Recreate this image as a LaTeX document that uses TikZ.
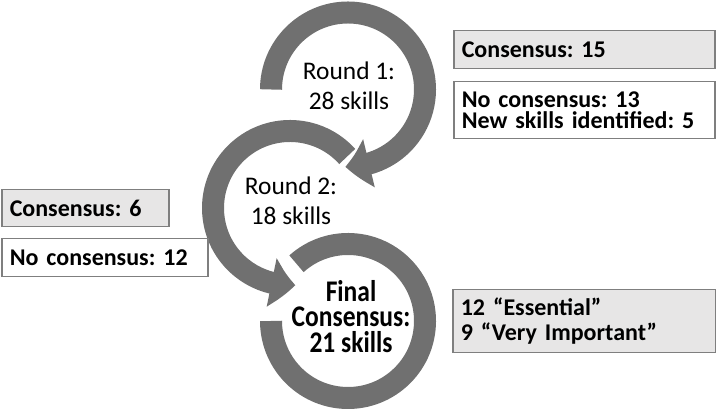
\documentclass[tikz,border=0pt]{standalone}
\usepackage{fontspec}
\setmainfont{Carlito}
\frenchspacing
\usepackage{tikz}
\usetikzlibrary{arrows.meta,bending,positioning,calc}
\definecolor{ringgray}{RGB}{112,112,112}
\definecolor{boxfill}{RGB}{231,230,230}
\definecolor{boxline}{RGB}{127,127,127}

\begin{document}
\begin{tikzpicture}[x=0.5pt, y=0.5pt,
  ring/.style={draw=ringgray, line width=11pt},
  ringtip/.style={ring, -{Triangle[bend, width=24pt, length=12pt]}},
  infobox/.style={rectangle, draw=boxline, line width=0.75pt, anchor=north west, inner xsep=4pt, inner ysep=0pt, align=left, font=\fontsize{12}{10.2}\selectfont\bfseries},
  graybox/.style={infobox, fill=boxfill}]
\useasboundingbox (0,0) rectangle (716,410);
% Ring centres
\coordinate (c1) at (348,320.5);
\coordinate (c2) at (290,202);
\coordinate (c3) at (348,89);
% Rings
\draw[ringtip] ([shift={(42:77)}]c2) arc[start angle=42, end angle=274, radius=77];
\draw[ringtip] ([shift={(180:77)}]c1) arc[start angle=180, end angle=-92, radius=77];
\draw[ring] ([shift={(132:77)}]c3) arc[start angle=132, end angle=-180, radius=77];
% Round labels
\node[align=center, font=\fontsize{12.7}{15}\selectfont] (r1) at (349,324.5) {Round 1:\\28 skills};
\node[align=center, font=\fontsize{12.7}{15}\selectfont] (r2) at (291,209.5) {Round 2:\\18 skills};
\node[align=center, xscale=0.85, font=\fontsize{15}{12.6}\selectfont\bfseries] (fin) at (351,93.5) {Final\\Consensus:\\21 skills};
% Round 1 results
\node[graybox, text width=122.5pt, minimum height=19pt] (cons1) at (453,380) {Consensus: 15};
\node[infobox, text width=122.5pt, minimum height=28.5pt] (nocons1) at (453,329) {No consensus: 13\\New skills identified: 5};
% Round 2 results
\node[graybox, text width=75.5pt, minimum height=18.5pt] (cons2) at (1,221) {Consensus: 6};
\node[infobox, text width=95pt, minimum height=19pt] (nocons2) at (1,172) {No consensus: 12};
% Final ratings
\node[graybox, text width=123.5pt, minimum height=31.5pt, font=\fontsize{12}{12.5}\selectfont\bfseries] (ratings) at (452,121) {12 “Essential”\\9 “Very Important”};
\end{tikzpicture}
\end{document}
